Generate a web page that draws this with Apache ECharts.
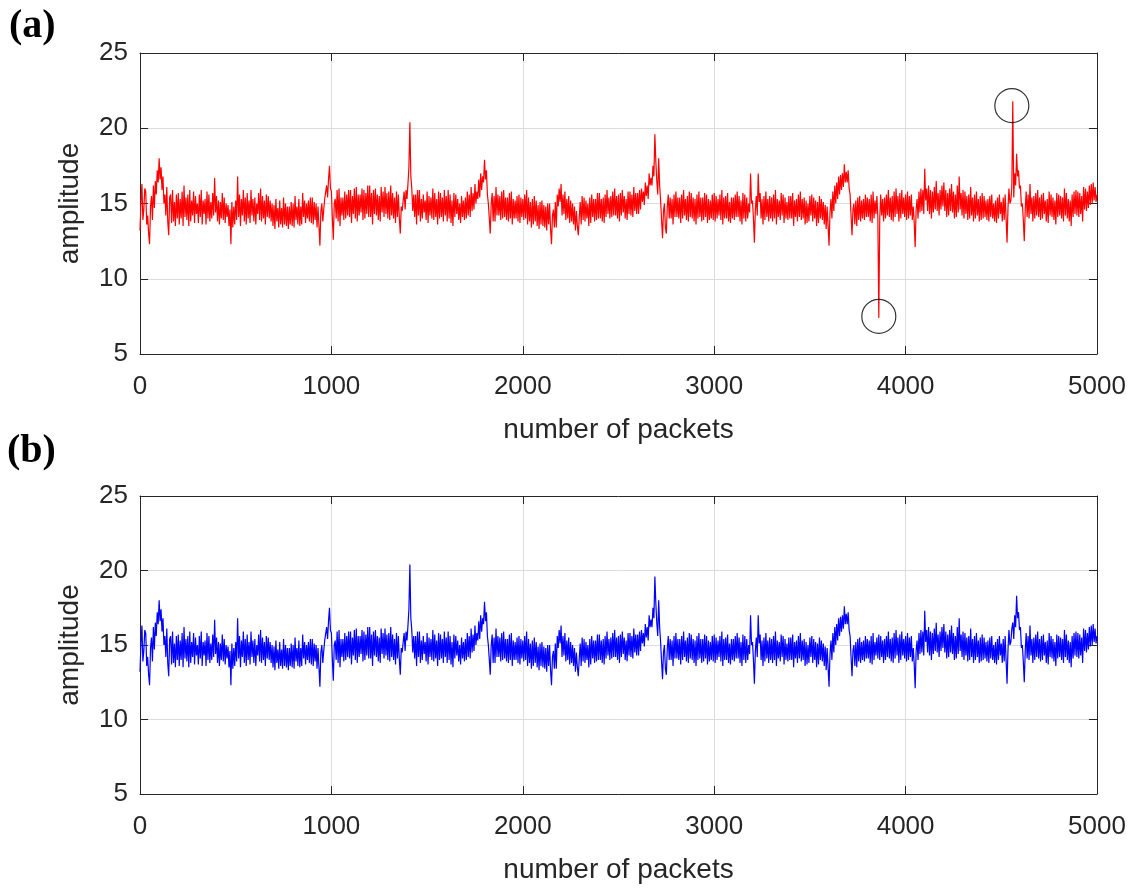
<!DOCTYPE html>
<html>
<head>
<meta charset="utf-8">
<script src="https://cdn.jsdelivr.net/npm/echarts@6/dist/echarts.min.js"></script>
<style>
html,body{margin:0;padding:0;background:#fff;}
#c{width:1135px;height:888px;}
</style>
</head>
<body>
<div id="c"></div>
<script>
const packetStep = 5;
const amplitudeClean = [
13.2,15.1,16.3,13.9,14.6,16.0,15.8,13.6,14.2,13.0,12.3,14.8,15.5,13.9,16.2,14.7,16.5,15.6,17.2,16.4,
18.0,16.6,17.4,15.9,16.8,15.0,15.6,14.2,16.1,13.8,12.9,15.4,15.6,13.7,15.9,13.8,15.1,13.5,15.6,14.0,
15.7,13.6,15.3,14.0,15.8,13.5,16.2,14.1,15.4,13.9,15.6,13.5,15.9,13.8,15.2,14.2,15.8,13.7,15.5,14.3,
15.0,13.7,15.6,14.1,15.9,13.6,15.2,14.3,15.3,13.6,15.8,14.0,15.6,13.8,15.1,14.0,15.7,14.2,16.7,14.4,
15.5,13.8,15.2,13.6,15.1,14.0,15.7,13.9,15.4,13.7,15.0,14.1,14.9,13.5,14.6,12.3,15.1,13.4,14.8,13.6,
15.2,13.9,16.8,14.1,15.6,13.5,15.3,14.2,15.9,13.8,15.4,13.6,15.7,14.0,15.2,13.7,15.9,14.2,15.3,13.8,
15.4,13.6,15.0,14.3,15.7,13.9,16.0,13.8,15.5,14.0,15.2,13.6,15.6,14.1,15.5,14.0,15.2,13.8,15.0,13.5,
14.9,13.3,15.3,13.8,14.7,13.4,15.2,13.6,14.7,13.4,15.4,13.6,15.0,13.5,14.8,13.3,14.8,13.6,15.1,13.5,
15.0,13.4,15.5,13.9,14.8,13.6,15.3,13.5,14.8,13.6,15.7,14.1,15.2,13.7,15.0,14.0,15.2,13.8,15.4,13.7,
15.4,13.6,15.1,13.9,15.0,13.4,14.8,13.5,12.2,14.5,15.0,13.8,14.6,15.3,15.2,16.2,15.4,16.6,17.5,16.0,
15.8,14.0,12.6,15.0,15.3,14.0,15.9,13.8,16.0,13.5,15.4,14.2,15.4,13.9,15.8,14.0,15.6,14.2,15.9,14.1,
15.9,13.7,15.5,14.3,16.0,14.0,16.1,13.8,15.6,14.2,15.6,14.4,16.0,13.9,15.9,14.0,15.7,14.3,16.2,14.1,
16.2,14.1,15.7,13.6,15.9,14.3,16.0,14.2,15.6,13.9,15.5,13.8,16.1,14.4,15.8,14.1,16.1,14.3,15.7,14.0,
15.8,13.9,16.2,14.2,15.7,14.0,15.4,13.7,15.8,14.1,15.6,14.0,13.0,14.8,14.5,15.2,15.8,14.6,15.9,15.3,
16.3,17.4,20.4,16.8,16.0,14.5,15.6,14.1,15.6,13.6,15.9,14.2,15.9,13.8,15.3,14.0,15.6,14.4,15.2,13.9,
15.8,13.7,15.5,14.2,15.4,14.0,16.0,13.9,15.7,14.1,15.3,13.6,15.8,14.0,15.7,14.1,15.4,13.8,15.9,14.2,
15.5,13.8,15.9,14.0,15.6,13.7,15.2,13.5,15.7,14.1,15.6,14.3,15.3,13.9,15.0,13.7,15.5,14.1,15.2,13.9,
15.4,14.0,15.8,14.2,15.6,14.1,16.1,14.5,15.7,14.6,16.3,15.0,15.8,15.3,16.6,15.4,17.0,15.9,16.8,16.4,
17.9,16.6,17.2,15.6,15.0,14.0,13.0,15.0,15.7,13.8,15.5,13.8,16.1,14.2,15.6,14.2,15.5,13.9,15.8,14.0,
15.9,14.1,15.4,13.9,15.4,13.8,15.7,14.0,15.8,13.6,15.3,14.0,15.2,14.0,15.5,13.8,15.6,13.7,15.4,14.1,
15.3,13.9,15.6,14.0,15.9,13.6,15.4,13.8,15.1,13.4,15.3,13.6,15.5,13.8,15.2,13.5,14.9,13.3,15.1,13.6,
15.2,13.5,14.9,13.4,14.8,13.2,15.0,13.6,15.0,13.3,12.3,14.2,14.6,13.4,15.1,13.4,15.6,14.8,16.0,15.1,
16.3,14.2,15.6,14.3,15.8,13.9,15.3,14.0,15.5,13.7,15.2,13.8,15.0,13.6,14.8,13.2,14.5,13.5,12.9,14.1,
15.1,13.6,15.5,13.9,15.4,13.8,15.2,14.0,15.0,13.5,15.4,13.7,15.6,14.1,15.3,13.8,15.3,13.9,15.7,14.0,
15.7,14.0,15.3,13.8,15.4,13.7,15.6,14.1,15.9,14.3,15.4,14.0,15.5,14.1,15.8,14.2,16.0,14.2,15.5,14.0,
15.6,13.8,15.7,14.2,15.9,14.4,15.5,14.0,15.3,13.9,15.8,14.3,15.8,14.2,15.6,14.1,16.1,14.5,15.7,14.3,
15.7,14.3,15.9,14.6,16.0,15.1,15.8,14.9,16.4,15.5,16.2,15.3,17.0,16.2,16.7,16.2,17.5,16.8,19.6,17.8,
16.5,15.6,18.0,16.2,15.2,13.9,12.7,14.5,15.0,13.4,13.0,14.8,15.6,14.0,15.4,14.0,15.3,13.6,15.6,14.1,
15.8,14.1,15.4,14.0,15.4,13.7,15.6,14.0,15.9,14.2,15.3,13.9,15.5,13.8,15.8,14.1,15.7,14.0,15.4,13.8,
15.3,13.6,15.6,14.0,15.8,14.1,15.4,13.8,15.4,13.9,15.7,14.1,15.6,13.7,15.3,13.9,15.2,14.0,15.6,13.9,
15.7,13.8,15.5,14.0,15.3,14.2,15.6,13.9,15.9,13.6,15.4,14.0,15.5,14.0,15.7,13.8,15.1,13.7,15.4,14.0,
15.4,13.9,15.6,14.1,15.8,14.1,15.5,13.8,15.2,13.6,15.7,14.0,15.6,13.8,15.4,14.0,15.0,14.4,17.0,15.0,
15.2,14.0,12.4,14.6,15.5,14.2,17.0,15.1,15.7,14.0,15.3,13.6,15.5,13.9,15.8,14.1,15.3,13.8,15.5,14.0,
15.4,13.8,15.6,14.0,15.9,13.6,15.3,14.1,15.2,13.9,15.7,14.2,15.6,13.7,15.4,14.0,15.1,13.9,15.5,14.0,
15.5,14.0,15.7,13.5,15.2,14.1,15.3,13.8,15.6,14.1,15.8,13.9,15.3,14.0,15.4,13.6,15.2,13.7,15.0,13.8,
15.5,14.2,15.6,13.8,15.4,14.0,15.2,13.5,15.1,13.7,15.5,14.0,15.3,13.9,15.1,13.6,14.9,13.3,14.8,13.5,
12.2,14.4,15.3,14.0,15.8,14.5,16.2,15.0,16.4,15.3,16.8,15.6,16.9,15.9,17.0,16.1,17.6,16.4,17.1,16.4,
17.2,16.0,15.6,14.2,12.9,14.6,15.0,13.6,15.2,13.5,15.4,13.9,15.5,13.8,15.2,14.0,15.3,13.9,15.6,14.1,
15.4,14.1,15.3,13.8,15.6,13.7,15.8,14.0,15.2,14.3,15.5,14.1,15.7,14.0,15.6,14.2,15.3,13.8,15.4,14.0,
15.6,14.2,15.9,14.1,15.4,13.9,15.5,13.8,15.8,14.1,16.0,14.3,15.5,13.8,15.7,14.0,15.9,14.3,15.4,14.1,
15.6,13.9,15.8,14.0,15.5,14.2,15.6,13.9,14.8,13.7,12.1,14.6,15.3,14.0,15.8,14.4,16.0,14.5,15.9,14.3,
17.3,15.2,16.0,14.5,16.2,14.3,15.9,14.0,15.8,14.4,16.1,14.6,16.5,14.5,15.7,14.2,15.9,14.6,16.2,14.8,
16.4,14.5,15.9,14.1,15.7,14.2,16.0,14.5,16.3,14.4,15.8,14.0,15.6,14.1,16.2,14.4,16.8,14.6,15.7,14.2,
15.9,14.0,15.8,14.3,15.5,13.9,15.6,14.0,16.1,14.2,15.4,13.8,15.6,14.0,15.8,14.2,15.3,13.8,15.5,13.9,
15.7,14.0,15.5,14.1,15.2,13.9,15.3,13.8,15.5,14.1,15.6,14.0,15.0,13.8,15.2,13.7,15.4,14.0,15.6,14.3,
15.1,13.8,15.4,13.9,15.6,14.0,12.4,14.7,16.0,15.0,15.2,16.1,16.5,15.4,17.0,16.2,18.3,16.8,17.2,16.0,
16.2,14.8,15.0,13.9,12.5,14.6,15.8,14.1,15.6,14.0,16.3,14.3,15.4,13.8,15.5,14.0,15.7,14.2,15.9,14.1,
15.4,13.9,15.6,14.0,15.7,14.3,15.2,13.8,15.3,13.7,15.8,14.2,15.6,14.1,15.4,13.9,15.2,13.6,15.7,14.1,
15.6,14.2,15.5,14.0,15.4,13.8,16.0,14.2,15.7,14.0,15.3,13.8,15.2,13.5,15.6,14.1,15.8,14.3,15.9,14.2,
15.8,14.1,15.7,14.3,15.5,13.8,16.1,14.6,16.0,14.5,15.8,14.7,16.2,14.9,16.3,15.0,16.4,15.2,16.1,15.1,
15.6
];
// the two outlier packets present only in panel (a): [packet, amplitude]
const outliers = [[3860, 7.4], [4560, 21.8]];
// circles drawn around the outliers in panel (a)
const circleMarks = [[3860, 7.5], [4555, 21.5]];
const xTicks = {min: 0, max: 5000, interval: 1000};
const yTicks = {min: 5, max: 25, interval: 5};
const xTitle = 'number of packets';
const yTitle = 'amplitude';
const panelLabels = ['(a)', '(b)'];

const cleanData = amplitudeClean.map((v, i) => [i * packetStep, v]);
const rawData = cleanData.map(p => {
  const o = outliers.find(q => q[0] === p[0]);
  return o ? [p[0], o[1]] : p.slice();
});

const axisColor = '#262626';
const fam = 'Liberation Sans, Arial, sans-serif';
const labelFont = {color: '#262626', fontSize: 26, fontFamily: fam};
const nameFont = {color: '#262626', fontSize: 28, fontFamily: fam};
const grids = [
  {left: 140, top: 53, width: 957, height: 301},
  {left: 140, top: 496, width: 957, height: 298}
];

const xAxes = [], yAxes = [];
grids.forEach((g, gi) => {
  xAxes.push({
    gridIndex: gi, type: 'value', position: 'bottom',
    min: xTicks.min, max: xTicks.max, interval: xTicks.interval,
    name: xTitle, nameLocation: 'middle', nameGap: 62, nameTextStyle: nameFont,
    axisLine: {show: true, onZero: false, lineStyle: {color: axisColor, width: 1}},
    axisTick: {show: true, inside: true, length: 8, lineStyle: {color: axisColor}},
    axisLabel: Object.assign({margin: 20, formatter: v => String(v)}, labelFont),
    splitLine: {show: true, lineStyle: {color: '#dcdcdc', width: 1}}
  });
  xAxes.push({
    gridIndex: gi, type: 'value', position: 'top',
    min: xTicks.min, max: xTicks.max, interval: xTicks.interval,
    axisLine: {show: true, onZero: false, lineStyle: {color: axisColor, width: 1}},
    axisTick: {show: true, inside: true, length: 8, lineStyle: {color: axisColor}},
    axisLabel: {show: false}, splitLine: {show: false}
  });
  yAxes.push({
    gridIndex: gi, type: 'value', position: 'left',
    min: yTicks.min, max: yTicks.max, interval: yTicks.interval,
    name: yTitle, nameLocation: 'middle', nameGap: 56, nameTextStyle: nameFont,
    axisLine: {show: true, onZero: false, lineStyle: {color: axisColor, width: 1}},
    axisTick: {show: true, inside: true, length: 8, lineStyle: {color: axisColor}},
    axisLabel: Object.assign({margin: 12}, labelFont),
    splitLine: {show: true, lineStyle: {color: '#dcdcdc', width: 1}}
  });
  yAxes.push({
    gridIndex: gi, type: 'value', position: 'right',
    min: yTicks.min, max: yTicks.max, interval: yTicks.interval,
    axisLine: {show: true, onZero: false, lineStyle: {color: axisColor, width: 1}},
    axisTick: {show: true, inside: true, length: 8, lineStyle: {color: axisColor}},
    axisLabel: {show: false}, splitLine: {show: false}
  });
});

const chart = echarts.init(document.getElementById('c'));
chart.setOption({
  animation: false,
  backgroundColor: '#ffffff',
  grid: grids,
  xAxis: xAxes,
  yAxis: yAxes,
  graphic: [
    {type: 'text', left: 9, top: 7, style: {text: panelLabels[0], font: 'bold 40px "Liberation Serif", "Times New Roman", serif', fill: '#000'}},
    {type: 'text', left: 7, top: 432, style: {text: panelLabels[1], font: 'bold 40px "Liberation Serif", "Times New Roman", serif', fill: '#000'}}
  ],
  series: [
    {type: 'line', xAxisIndex: 0, yAxisIndex: 0, data: rawData, showSymbol: false, symbol: 'none',
     sampling: null, lineStyle: {color: '#ff0000', width: 1.2}, itemStyle: {color: '#ff0000'}},
    {type: 'scatter', xAxisIndex: 0, yAxisIndex: 0, data: circleMarks, symbol: 'circle', symbolSize: 34,
     itemStyle: {color: 'rgba(0,0,0,0)', borderColor: '#000', borderWidth: 1.2}, z: 5},
    {type: 'line', xAxisIndex: 2, yAxisIndex: 2, data: cleanData, showSymbol: false, symbol: 'none',
     sampling: null, lineStyle: {color: '#0000ff', width: 1.2}, itemStyle: {color: '#0000ff'}}
  ]
});
</script>
</body>
</html>
